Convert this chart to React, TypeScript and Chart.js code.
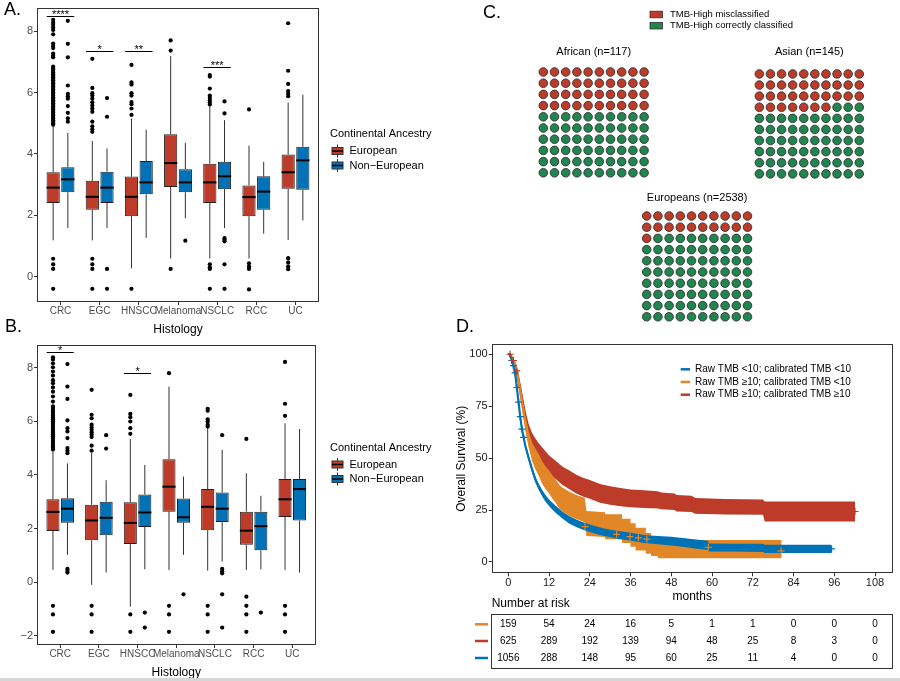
import React, { useEffect, useRef } from 'react';
import { Chart, registerables } from 'chart.js';

Chart.register(...registerables);

const W = 900;
const H = 681;
const FONT = '"Liberation Sans", Arial, Helvetica, sans-serif';
const RED = '#BC3C29';
const BLUE = '#0072B5';
const ORANGE = '#E18727';
const GREEN = '#20854E';
const INK = '#333333';

// ---------------- Panels A & B data ----------------
const histology = ['CRC', 'EGC', 'HNSCC', 'Melanoma', 'NSCLC', 'RCC', 'UC'];
const ancestry = ['European', 'Non\u2212European'];
const legendTitle = 'Continental Ancestry';
const xTitle = 'Histology';

// [lower whisker, Q1, median, Q3, upper whisker]
const boxA_European = [
  [1.18, 2.40, 2.90, 3.40, 4.90],
  [1.18, 2.18, 2.60, 3.12, 4.42],
  [0.27, 1.97, 2.60, 3.26, 5.15],
  [0.59, 2.92, 3.70, 4.64, 7.19],
  [0.59, 2.40, 3.07, 3.68, 5.56],
  [0.59, 1.97, 2.59, 2.97, 4.27],
  [1.19, 2.86, 3.40, 3.98, 5.67],
];
const boxA_NonEuropean = [
  [1.58, 2.75, 3.17, 3.56, 4.68],
  [1.58, 2.40, 2.90, 3.42, 4.18],
  [1.26, 2.68, 3.07, 3.77, 4.79],
  [1.90, 2.75, 3.07, 3.50, 4.36],
  [1.58, 2.85, 3.27, 3.74, 5.10],
  [1.40, 2.18, 2.77, 3.27, 3.74],
  [1.83, 2.83, 3.79, 4.23, 5.93],
];
const outA_European = [
  [4.95, 5.0, 5.05, 5.1, 5.15, 5.2, 5.25, 5.3, 5.35, 5.4, 5.45, 5.5, 5.55, 5.6, 5.65, 5.7, 5.75, 5.8, 5.85, 5.9, 5.95, 6.0, 6.05, 6.1, 6.15, 6.2, 6.25, 6.3, 6.35, 6.4, 6.45, 6.5, 6.55, 6.6, 6.65, 6.7, 6.75, 6.8, 6.85, 7.15, 7.2, 7.27, 7.45, 7.52, 7.6, 7.9, 8.04, 8.12, 8.2, 8.28, 8.37, 0.58, 0.4, 0.25, -0.4],
  [4.72, 4.8, 4.9, 5.05, 5.37, 5.48, 5.58, 5.68, 5.8, 5.9, 5.98, 6.15, 7.1, 0.58, 0.4, 0.25, -0.4],
  [5.27, 5.48, 5.62, 5.69, 5.9, 5.98, 6.26, 6.33, 6.9, -0.4],
  [7.37, 7.7, 0.25],
  [5.61, 5.68, 5.75, 5.83, 5.9, 6.13, 6.52, 6.57, 0.4, 0.3, 0.25, -0.4],
  [5.45, 0.43, 0.33, 0.25, -0.42],
  [5.88, 5.96, 6.05, 6.28, 6.71, 8.26, 0.6, 0.46, 0.33, 0.24],
];
const outA_NonEuropean = [
  [5.05, 5.16, 5.34, 5.56, 5.8, 5.88, 5.96, 6.23, 7.15, 7.59, 8.34],
  [5.21, 5.82, 0.25, -0.4],
  [],
  [1.17],
  [5.32, 5.71, 1.25, 1.2, 1.15, 0.4, -0.4],
  [],
  [],
];
const sigA_groups = ['CRC', 'EGC', 'HNSCC', 'NSCLC'];
const sigA_y = [8.49, 7.36, 7.36, 6.83];
const sigA_text = ['****', '*', '**', '***'];
const yTicksA = [0, 2, 4, 6, 8];

const boxB_European = [
  [0.46, 1.91, 2.62, 3.09, 4.90],
  [-0.10, 1.56, 2.30, 2.89, 4.81],
  [-0.91, 1.42, 2.21, 2.98, 5.34],
  [0.46, 2.63, 3.56, 4.58, 7.29],
  [0.43, 1.94, 2.81, 3.47, 5.74],
  [0.46, 1.40, 1.92, 2.63, 4.06],
  [0.46, 2.43, 3.09, 3.85, 5.92],
];
const boxB_NonEuropean = [
  [1.02, 2.22, 2.74, 3.13, 4.43],
  [0.36, 1.75, 2.40, 3.00, 3.80],
  [0.48, 2.06, 2.60, 3.27, 4.37],
  [1.02, 2.22, 2.42, 3.12, 3.94],
  [0.77, 2.24, 2.74, 3.34, 4.93],
  [0.48, 1.19, 2.09, 2.63, 3.22],
  [0.36, 2.30, 3.47, 3.85, 5.71],
];
const outB_European = [
  [4.95, 5.02, 5.09, 5.16, 5.23, 5.3, 5.37, 5.44, 5.51, 5.58, 5.65, 5.72, 5.79, 5.86, 5.93, 6.0, 6.07, 6.14, 6.21, 6.28, 6.35, 6.42, 6.49, 6.55, 6.73, 6.92, 7.1, 7.26, 7.41, 7.53, 7.7, 7.85, 8.01, 8.16, 8.3, 8.38, -0.88, -1.2, -1.85],
  [4.9, 5.09, 5.41, 5.5, 5.59, 5.68, 5.77, 5.87, 6.11, 6.24, 7.17, -0.88, -1.2, -1.85],
  [5.53, 5.74, 5.99, 6.15, 6.27, 6.98, -1.2, -1.85],
  [7.79, -0.88, -1.2, -1.85],
  [5.8, 5.87, 5.99, 6.07, 6.39, 6.46, -0.88, -1.2, -1.85],
  [5.34, -0.54, -0.88, -1.2, -1.85],
  [6.2, 6.65, 8.21, -0.88, -1.2, -1.85],
];
const outB_NonEuropean = [
  [4.81, 4.9, 5.0, 5.37, 5.62, 5.74, 6.03, 6.83, 7.29, 8.13, 0.5, 0.43, 0.36],
  [4.98, 5.48],
  [-1.13, -1.69],
  [-0.45],
  [5.48, 0.5, 0.41, 0.33, -0.45, -1.69],
  [-1.13],
  [],
];
const sigB_groups = ['CRC', 'HNSCC'];
const sigB_y = [8.58, 7.79];
const sigB_text = ['*', '*'];
const yTicksB = [-2, 0, 2, 4, 6, 8];

// ---------------- Panel C data ----------------
const waffleTitles = ['African (n=117)', 'Asian (n=145)', 'Europeans (n=2538)'];
const misclassifiedPer100 = [40, 37, 21];
const waffleLegend = ['TMB-High misclassified', 'TMB-High correctly classified'];

// ---------------- Panel D data ----------------
const kmLabels = [
  'Raw TMB <10; calibrated TMB <10',
  'Raw TMB \u226510; calibrated TMB <10',
  'Raw TMB \u226510; calibrated TMB \u226510',
];
const monthTicks = [0, 12, 24, 36, 48, 60, 72, 84, 96, 108];
const survTicks = [0, 25, 50, 75, 100];

const redT = [0, 0.5, 1, 2, 3, 4, 5, 6, 7, 8, 9, 10, 11, 12, 14, 16, 18, 20, 22, 24, 27, 30, 33, 36, 40, 44, 45, 49, 49.5, 54, 55, 64, 75, 75.5, 102.1];
const redS = [100, 100, 98.5, 95, 88, 79, 70, 63, 58.5, 55.5, 53, 51, 49, 47, 44.2, 41.5, 39.5, 37.5, 36, 35, 33, 32, 31.2, 30.6, 30.3, 29.9, 29.4, 29, 28.3, 28, 27, 26.6, 26.4, 24.3, 24.3];
const redLo = [100, 99.7, 97.7, 93.5, 85.8, 76.2, 66.9, 59.7, 54.9, 51.7, 49, 46.9, 44.8, 42.7, 39.8, 37.1, 35, 33, 31.5, 30.5, 28.5, 27.5, 26.8, 26.3, 26, 25.7, 25.4, 25, 24.3, 24.1, 23.2, 22.9, 22.7, 19.5, 19.5];
const redHi = [100, 100, 99.3, 96.5, 90.2, 81.8, 73.1, 66.3, 62.1, 59.3, 57, 55.1, 53.2, 51.3, 48.6, 45.9, 44, 42, 40.5, 39.5, 37.5, 36.5, 35.6, 34.9, 34.6, 34.1, 33.4, 33, 32.3, 31.9, 30.8, 30.3, 30.1, 29.1, 29.1];

const blueT = [0, 0.5, 1, 1.5, 2, 2.5, 3, 3.5, 4, 5, 6, 7, 8, 9, 10, 11, 12, 13, 14, 16, 18, 20, 22, 24, 27, 30, 33, 36, 40, 44, 48, 52, 56, 58.8, 59, 66, 75, 75.5, 95.2];
const blueS = [100, 100, 97, 94.5, 91, 84, 77, 70, 64, 56, 50, 44.5, 39.5, 36, 33, 30.5, 28.5, 26.8, 25.3, 22.5, 20.2, 18.7, 17.3, 16.2, 14.8, 13.7, 12.9, 12.2, 11.1, 10.5, 10, 9.3, 8.5, 8.0, 7.0, 6.9, 6.8, 6.3, 6.3];
const blueLo = [100, 99.8, 96.6, 94, 90.4, 83.3, 76.2, 69.1, 63, 54.9, 48.8, 43.2, 38.1, 34.5, 31.5, 28.9, 26.9, 25.1, 23.6, 20.8, 18.4, 16.9, 15.5, 14.4, 13, 11.9, 11, 10.3, 9.2, 8.5, 7.9, 7.2, 6.3, 5.8, 5.1, 5, 4.8, 4.3, 4.3];
const blueHi = [100, 100, 97.4, 95, 91.6, 84.7, 77.8, 70.9, 65, 57.1, 51.2, 45.8, 40.9, 37.5, 34.5, 32.1, 30.1, 28.5, 27, 24.2, 22, 20.5, 19.1, 18, 16.6, 15.5, 14.8, 14.1, 13, 12.5, 12.1, 11.4, 10.7, 10.2, 8.9, 8.8, 8.8, 8.3, 8.3];

const orangeT = [0, 0.5, 1, 2, 3, 4, 5, 6, 7, 8, 9, 10, 11, 12, 13, 14, 15, 16, 18, 20, 22.5, 23, 28.5, 28.5, 33.5, 33.5, 36, 36, 37.5, 37.5, 40.5, 40.5, 42, 42, 44, 44, 80.5];
const orangeS = [100, 100, 98.5, 95, 87, 77, 67, 59, 53, 49.5, 46.5, 43, 40.5, 38.5, 36, 34, 31.5, 30, 28, 26.5, 25, 18.5, 18, 17, 17, 15, 15, 13, 13, 11, 11, 9, 9, 7.5, 7.5, 6.2, 6.2];
const orangeLo = [100, 99.7, 97.7, 93.5, 84.5, 73.8, 63.3, 55, 48.5, 44.5, 41.3, 37.6, 35, 33, 30.4, 28.4, 25.8, 24.3, 22.2, 20.7, 19.1, 12.5, 12, 11, 11, 9.2, 9.2, 7.4, 7.4, 5.5, 5.5, 4, 4, 2.9, 2.9, 1.8, 1.8];
const orangeHi = [100, 100, 99.3, 96.5, 89.5, 80.2, 70.7, 63, 57.5, 54.5, 51.7, 48.4, 46, 44, 41.6, 39.6, 37.2, 35.7, 33.8, 32.3, 30.9, 24.5, 24, 23, 23, 20.8, 20.8, 18.6, 18.6, 16.5, 16.5, 14, 14, 12.1, 12.1, 10.6, 10.6];

const redCensorT = [0.5, 1.5, 2.5, 102.1];
const redCensorS = [100, 97, 92, 24.3];
const blueCensorT = [1, 1.5, 2, 2.5, 3, 3.5, 4, 4.5, 95.2];
const blueCensorS = [97, 94.5, 91, 84, 77, 70, 64, 60, 6.3];
const orangeCensorT = [22.6, 31.9, 35.8, 38.3, 40.8, 58.9, 80.3];
const orangeCensorS = [17, 13.3, 12.2, 11.6, 11, 7.1, 5.4];

const riskTitle = 'Number at risk';
const riskOrange = [159, 54, 24, 16, 5, 1, 1, 0, 0, 0];
const riskRed = [625, 289, 192, 139, 94, 48, 25, 8, 3, 0];
const riskBlue = [1056, 288, 148, 95, 60, 25, 11, 4, 0, 0];

// ---------------- helpers ----------------
type TextItem = { text: string; x: number; y: number; size: number; color?: string; align?: CanvasTextAlign; baseline?: CanvasTextBaseline };

function textPlugin(items: TextItem[]) {
  return {
    id: 'pageText',
    afterDraw(chart: any) {
      const ctx = chart.ctx;
      items.forEach((it) => {
        ctx.save();
        ctx.font = `${it.size}px ${FONT}`;
        ctx.fillStyle = it.color ?? '#000';
        ctx.textAlign = it.align ?? 'left';
        ctx.textBaseline = it.baseline ?? 'alphabetic';
        ctx.fillText(it.text, it.x, it.y);
        ctx.restore();
      });
    },
  };
}

const framePlugin = {
  id: 'frame',
  afterDatasetsDraw(chart: any) {
    const { ctx, chartArea: a } = chart;
    ctx.save();
    ctx.strokeStyle = INK;
    ctx.lineWidth = 1;
    ctx.strokeRect(Math.round(a.left) + 0.5, Math.round(a.top) + 0.5, Math.round(a.right - a.left) - 1, Math.round(a.bottom - a.top) - 1);
    ctx.restore();
  },
};

const boxPlugin = {
  id: 'boxWhiskers',
  beforeDatasetsDraw(chart: any) {
    const ctx = chart.ctx;
    const y = chart.scales.y;
    chart.data.datasets.forEach((ds: any, di: number) => {
      if (!ds.stats) return;
      const meta = chart.getDatasetMeta(di);
      meta.data.forEach((bar: any, i: number) => {
        const s = ds.stats[i];
        const { x } = bar.getProps(['x'], true);
        ctx.save();
        ctx.strokeStyle = INK;
        ctx.lineWidth = 1;
        ctx.beginPath();
        ctx.moveTo(x, y.getPixelForValue(s[0]));
        ctx.lineTo(x, y.getPixelForValue(s[1]));
        ctx.moveTo(x, y.getPixelForValue(s[3]));
        ctx.lineTo(x, y.getPixelForValue(s[4]));
        ctx.stroke();
        ctx.restore();
      });
    });
  },
  afterDatasetsDraw(chart: any) {
    const ctx = chart.ctx;
    const y = chart.scales.y;
    chart.data.datasets.forEach((ds: any, di: number) => {
      if (!ds.stats) return;
      const meta = chart.getDatasetMeta(di);
      meta.data.forEach((bar: any, i: number) => {
        const s = ds.stats[i];
        const { x, width } = bar.getProps(['x', 'width'], true);
        const py = y.getPixelForValue(s[2]);
        ctx.save();
        ctx.strokeStyle = '#000';
        ctx.lineWidth = 2;
        ctx.beginPath();
        ctx.moveTo(x - width / 2, py);
        ctx.lineTo(x + width / 2, py);
        ctx.stroke();
        ctx.restore();
      });
    });
  },
};

function sigPlugin(groups: string[], ys: number[], texts: string[]) {
  return {
    id: 'sigBars',
    afterDatasetsDraw(chart: any) {
      const { ctx } = chart;
      const xs = chart.scales.x;
      const ysc = chart.scales.y;
      groups.forEach((g, k) => {
        const c = histology.indexOf(g) + 1;
        const x0 = xs.getPixelForValue(c - 0.35);
        const x1 = xs.getPixelForValue(c + 0.35);
        const py = Math.round(ysc.getPixelForValue(ys[k])) + 0.5;
        ctx.save();
        ctx.strokeStyle = '#000';
        ctx.lineWidth = 1;
        ctx.beginPath();
        ctx.moveTo(x0, py);
        ctx.lineTo(x1, py);
        ctx.stroke();
        ctx.font = `11px ${FONT}`;
        ctx.fillStyle = '#000';
        ctx.textAlign = 'center';
        ctx.textBaseline = 'alphabetic';
        ctx.fillText(texts[k], (x0 + x1) / 2, py + 1);
        ctx.restore();
      });
    },
  };
}

function boxLegendPlugin(titleY: number, rowYs: number[]) {
  return {
    id: 'boxLegend',
    afterDraw(chart: any) {
      const ctx = chart.ctx;
      ctx.save();
      ctx.font = `11px ${FONT}`;
      ctx.fillStyle = '#000';
      ctx.textBaseline = 'middle';
      ctx.textAlign = 'left';
      ctx.fillText(legendTitle, 330, titleY);
      [RED, BLUE].forEach((c, k) => {
        const y = rowYs[k];
        const x0 = 332;
        const w = 11;
        ctx.strokeStyle = INK;
        ctx.lineWidth = 1;
        ctx.beginPath();
        ctx.moveTo(x0 + w / 2, y - 6.5);
        ctx.lineTo(x0 + w / 2, y + 6.5);
        ctx.stroke();
        ctx.fillStyle = c;
        ctx.fillRect(x0, y - 3.5, w, 7);
        ctx.strokeRect(x0, y - 3.5, w, 7);
        ctx.lineWidth = 1.5;
        ctx.strokeStyle = '#000';
        ctx.beginPath();
        ctx.moveTo(x0, y);
        ctx.lineTo(x0 + w, y);
        ctx.stroke();
        ctx.fillStyle = '#000';
        ctx.fillText(ancestry[k], 349.5, y);
      });
      ctx.restore();
    },
  };
}

const fmtNum = (v: number) => (v < 0 ? '\u2212' + Math.abs(v) : String(v));

function makeBoxChart(p: any) {
  const yAxisW = 37;
  const dodge = 0.1875;
  const pts = (groups: number[][], off: number) => groups.flatMap((vals, i) => vals.map((v) => ({ x: i + 1 + off, y: v })));
  const boxes = (stats: number[][]) => stats.map((s, i) => ({ x: i + 1, y: [s[1], s[3]] }));
  return {
    type: 'bar',
    data: {
      datasets: [
        { type: 'bar', label: ancestry[0], data: boxes(p.eur), stats: p.eur, backgroundColor: RED, borderColor: '#1f1f1f', borderWidth: 1, borderSkipped: false, barPercentage: 0.9, categoryPercentage: 0.75, order: 1 },
        { type: 'bar', label: ancestry[1], data: boxes(p.non), stats: p.non, backgroundColor: BLUE, borderColor: '#1f1f1f', borderWidth: 1, borderSkipped: false, barPercentage: 0.9, categoryPercentage: 0.75, order: 1 },
        { type: 'scatter', label: ancestry[0] + ' outliers', data: pts(p.outEur, -dodge), pointRadius: 2.1, backgroundColor: '#000', borderWidth: 0, order: 0 },
        { type: 'scatter', label: ancestry[1] + ' outliers', data: pts(p.outNon, dodge), pointRadius: 2.1, backgroundColor: '#000', borderWidth: 0, order: 0 },
      ],
    },
    options: {
      responsive: false,
      animation: false,
      devicePixelRatio: 1,
      events: [],
      layout: { padding: { left: p.area.l - yAxisW, top: p.area.t, right: W - p.area.r, bottom: H - p.area.b - p.xAxisH } },
      scales: {
        x: {
          type: 'linear',
          min: 0.4,
          max: 7.6,
          offset: false,
          grid: { display: true, drawOnChartArea: false, drawTicks: true, tickLength: 3, color: INK, offset: false },
          border: { display: false },
          ticks: { autoSkip: false, maxRotation: 0, minRotation: 0, padding: 0, color: '#4d4d4d', font: { family: FONT, size: 10 }, callback: (v: number) => histology[Math.round(v) - 1] ?? '' },
          afterBuildTicks: (s: any) => { s.ticks = histology.map((_, i) => ({ value: i + 1 })); },
          afterFit: (s: any) => { s.height = p.xAxisH; },
          title: { display: true, text: xTitle, color: '#000', font: { family: FONT, size: 12 }, padding: { top: 0, bottom: p.titlePad } },
        },
        y: {
          type: 'linear',
          min: p.yMin,
          max: p.yMax,
          grid: { display: true, drawOnChartArea: false, drawTicks: true, tickLength: 3, color: INK },
          border: { display: false },
          ticks: { padding: 1, color: '#4d4d4d', font: { family: FONT, size: 11 }, callback: (v: number) => fmtNum(v) },
          afterBuildTicks: (s: any) => { s.ticks = p.yTicks.map((v: number) => ({ value: v })); },
          afterFit: (s: any) => { s.width = yAxisW; },
        },
      },
      plugins: { legend: { display: false }, tooltip: { enabled: false } },
    },
    plugins: [boxPlugin, framePlugin, sigPlugin(p.sigGroups, p.sigY, p.sigText), boxLegendPlugin(p.legendTitleY, p.legendRowY), textPlugin(p.letters)],
  };
}

const makeChartA = () =>
  makeBoxChart({
    eur: boxA_European, non: boxA_NonEuropean, outEur: outA_European, outNon: outA_NonEuropean,
    sigGroups: sigA_groups, sigY: sigA_y, sigText: sigA_text,
    yMin: -0.83, yMax: 8.77, yTicks: yTicksA,
    area: { l: 37, t: 2, r: 319, b: 302 }, xAxisH: 38, titlePad: 2.8,
    legendTitleY: 134, legendRowY: [151, 165.5],
    letters: [{ text: 'A.', x: 4, y: 15, size: 18 }],
  });

const makeChartB = () =>
  makeBoxChart({
    eur: boxB_European, non: boxB_NonEuropean, outEur: outB_European, outNon: outB_NonEuropean,
    sigGroups: sigB_groups, sigY: sigB_y, sigText: sigB_text,
    yMin: -2.34, yMax: 8.84, yTicks: yTicksB,
    area: { l: 37, t: 345, r: 315.5, b: 645 }, xAxisH: 36, titlePad: 0.8,
    legendTitleY: 448, legendRowY: [464.5, 479],
    letters: [{ text: 'B.', x: 5, y: 331.5, size: 18 }],
  });

// ---------------- Panel C ----------------
const waffleLayout = [
  { l: 537.7, t: 66.4, cell: 11.2, titleY: 52 },
  { l: 753.8, t: 68.4, cell: 11.1, titleY: 52 },
  { l: 641.1, t: 210.4, cell: 11.2, titleY: 198 },
];

const waffleLegendPlugin = {
  id: 'waffleLegend',
  afterDraw(chart: any) {
    const ctx = chart.ctx;
    ctx.save();
    [RED, GREEN].forEach((c, k) => {
      const y = k === 0 ? 14.5 : 25.7;
      ctx.fillStyle = c;
      ctx.fillRect(650, y - 3.3, 12.5, 6.6);
      ctx.strokeStyle = INK;
      ctx.lineWidth = 0.8;
      ctx.strokeRect(650, y - 3.3, 12.5, 6.6);
      ctx.fillStyle = '#000';
      ctx.font = `9.5px ${FONT}`;
      ctx.textAlign = 'left';
      ctx.textBaseline = 'middle';
      ctx.fillText(waffleLegend[k], 670, y);
    });
    ctx.restore();
  },
};

function makeWaffle(idx: number) {
  const lay = waffleLayout[idx];
  const mis = misclassifiedPer100[idx];
  const cells = Array.from({ length: 100 }, (_, k) => ({ x: k % 10, y: Math.floor(k / 10) }));
  const size = lay.cell * 10;
  const extra: any[] = idx === 0 ? [waffleLegendPlugin, textPlugin([{ text: 'C.', x: 483, y: 18, size: 18 }])] : [];
  return {
    type: 'scatter',
    data: {
      datasets: [
        { label: waffleLegend[0], data: cells.slice(0, mis), backgroundColor: RED, borderColor: INK, borderWidth: 0.9, pointRadius: 4.3 },
        { label: waffleLegend[1], data: cells.slice(mis), backgroundColor: GREEN, borderColor: INK, borderWidth: 0.9, pointRadius: 4.3 },
      ],
    },
    options: {
      responsive: false,
      animation: false,
      devicePixelRatio: 1,
      events: [],
      layout: { padding: { left: lay.l, top: lay.t, right: W - lay.l - size, bottom: H - lay.t - size } },
      scales: {
        x: { type: 'linear', display: false, min: -0.5, max: 9.5 },
        y: { type: 'linear', display: false, min: -0.5, max: 9.5, reverse: true },
      },
      plugins: { legend: { display: false }, tooltip: { enabled: false } },
    },
    plugins: [
      {
        id: 'waffleTitle',
        afterDraw(chart: any) {
          const { ctx, chartArea: a } = chart;
          ctx.save();
          ctx.font = `11px ${FONT}`;
          ctx.fillStyle = '#000';
          ctx.textAlign = 'center';
          ctx.textBaseline = 'middle';
          ctx.fillText(waffleTitles[idx], (a.left + a.right) / 2, lay.titleY);
          ctx.restore();
        },
      },
      ...extra,
    ],
  };
}
const makeWaffle0 = () => makeWaffle(0);
const makeWaffle1 = () => makeWaffle(1);
const makeWaffle2 = () => makeWaffle(2);

// ---------------- Panel D ----------------
function kmDatasets(t: number[], s: number[], lo: number[], hi: number[], color: string, label: string) {
  const pts = (arr: number[]) => t.map((x, i) => ({ x, y: arr[i] }));
  return [
    { type: 'line', label, data: pts(s), borderColor: color, borderWidth: 2.2, pointRadius: 0, fill: false, tension: 0 },
    { type: 'line', label: label + ' (upper CI)', data: pts(hi), borderColor: 'rgba(0,0,0,0)', borderWidth: 0, pointRadius: 0, fill: '+1', backgroundColor: color, tension: 0 },
    { type: 'line', label: label + ' (lower CI)', data: pts(lo), borderColor: 'rgba(0,0,0,0)', borderWidth: 0, pointRadius: 0, fill: false, tension: 0 },
  ];
}
function censorDataset(t: number[], s: number[], color: string, label: string) {
  return { type: 'scatter', label, data: t.map((x, i) => ({ x, y: s[i] })), pointStyle: 'cross', pointRadius: 3.5, borderColor: color, borderWidth: 1.2, backgroundColor: color, showLine: false };
}

const kmDecorPlugin = {
  id: 'kmDecor',
  afterDraw(chart: any) {
    const ctx = chart.ctx;
    const xs = chart.scales.x;
    ctx.save();
    // legend
    const legendColors = [BLUE, ORANGE, RED];
    const ly = [369.3, 382, 394.7];
    kmLabels.forEach((lab, k) => {
      ctx.strokeStyle = legendColors[k];
      ctx.lineWidth = 2.5;
      ctx.beginPath();
      ctx.moveTo(680.7, ly[k]);
      ctx.lineTo(690, ly[k]);
      ctx.stroke();
      ctx.fillStyle = '#000';
      ctx.font = `10px ${FONT}`;
      ctx.textAlign = 'left';
      ctx.textBaseline = 'middle';
      ctx.fillText(lab, 695, ly[k]);
    });
    // risk table
    ctx.font = `12px ${FONT}`;
    ctx.fillStyle = '#000';
    ctx.textAlign = 'left';
    ctx.textBaseline = 'middle';
    ctx.fillText(riskTitle, chart.chartArea.left, 604);
    ctx.strokeStyle = INK;
    ctx.lineWidth = 1;
    ctx.strokeRect(491.5, 614.5, 401, 54);
    const rows = [riskOrange, riskRed, riskBlue];
    const rowColors = [ORANGE, RED, BLUE];
    const ry = [624.3, 641, 658];
    rows.forEach((vals, r) => {
      ctx.strokeStyle = rowColors[r];
      ctx.lineWidth = 2.5;
      ctx.beginPath();
      ctx.moveTo(475, ry[r]);
      ctx.lineTo(488, ry[r]);
      ctx.stroke();
      ctx.fillStyle = '#000';
      ctx.font = `10px ${FONT}`;
      ctx.textAlign = 'center';
      vals.forEach((v, j) => ctx.fillText(String(v), xs.getPixelForValue(monthTicks[j]), ry[r]));
    });
    ctx.restore();
  },
};

const makeKM = () => {
  const yAxisW = 37.2;
  const area = { l: 491.7, t: 344.3, r: 892.7, b: 573.3 };
  const xAxisH = 31;
  const tickFont = { family: FONT, size: 11 };
  return {
    type: 'line',
    data: {
      datasets: [
        censorDataset(redCensorT, redCensorS, RED, kmLabels[2] + ' censored'),
        censorDataset(orangeCensorT, orangeCensorS, ORANGE, kmLabels[1] + ' censored'),
        censorDataset(blueCensorT, blueCensorS, BLUE, kmLabels[0] + ' censored'),
        ...kmDatasets(blueT, blueS, blueLo, blueHi, BLUE, kmLabels[0]),
        ...kmDatasets(orangeT, orangeS, orangeLo, orangeHi, ORANGE, kmLabels[1]),
        ...kmDatasets(redT, redS, redLo, redHi, RED, kmLabels[2]),
      ],
    },
    options: {
      responsive: false,
      animation: false,
      devicePixelRatio: 1,
      events: [],
      layout: { padding: { left: area.l - yAxisW, top: area.t, right: W - area.r, bottom: H - area.b - xAxisH } },
      scales: {
        x: {
          type: 'linear',
          min: -4.9,
          max: 113.2,
          grid: { display: true, drawOnChartArea: false, drawTicks: true, tickLength: 3, color: INK },
          border: { display: false },
          ticks: { autoSkip: false, maxRotation: 0, minRotation: 0, padding: 0, color: '#222', font: tickFont },
          afterBuildTicks: (s: any) => { s.ticks = monthTicks.map((v) => ({ value: v })); },
          afterFit: (s: any) => { s.height = xAxisH; },
          title: { display: true, text: 'months', color: '#000', font: { family: FONT, size: 12 }, padding: { top: 0, bottom: 0.4 } },
        },
        y: {
          type: 'linear',
          min: -5.44,
          max: 104.8,
          grid: { display: true, drawOnChartArea: false, drawTicks: true, tickLength: 3, color: INK },
          border: { display: false },
          ticks: { padding: 1, color: '#222', font: tickFont },
          afterBuildTicks: (s: any) => { s.ticks = survTicks.map((v) => ({ value: v })); },
          afterFit: (s: any) => { s.width = yAxisW; },
          title: { display: true, text: 'Overall Survival (%)', color: '#000', font: { family: FONT, size: 12 }, padding: { top: 0, bottom: 0 } },
        },
      },
      plugins: {
        legend: { display: false },
        tooltip: { enabled: false },
        filler: { propagate: false, drawTime: 'beforeDatasetDraw' },
      },
    },
    plugins: [framePlugin, kmDecorPlugin, textPlugin([{ text: 'D.', x: 456, y: 331.7, size: 18 }])],
  };
};

// ---------------- components ----------------
function ChartCanvas({ make }: { make: () => any }) {
  const ref = useRef<HTMLCanvasElement | null>(null);
  useEffect(() => {
    if (!ref.current) return;
    const chart = new Chart(ref.current, make());
    return () => chart.destroy();
  }, [make]);
  return <canvas ref={ref} width={W} height={H} style={{ position: 'absolute', left: 0, top: 0, width: W, height: H }} />;
}

export default function App() {
  return (
    <div style={{ position: 'fixed', left: 0, top: 0, width: W, height: H, background: '#fff', overflow: 'hidden' }}>
      <ChartCanvas make={makeChartA} />
      <ChartCanvas make={makeChartB} />
      <ChartCanvas make={makeWaffle0} />
      <ChartCanvas make={makeWaffle1} />
      <ChartCanvas make={makeWaffle2} />
      <ChartCanvas make={makeKM} />
      <div style={{ position: 'absolute', left: 0, top: 678, width: W, height: 3, background: '#d6d6d6' }} />
    </div>
  );
}
